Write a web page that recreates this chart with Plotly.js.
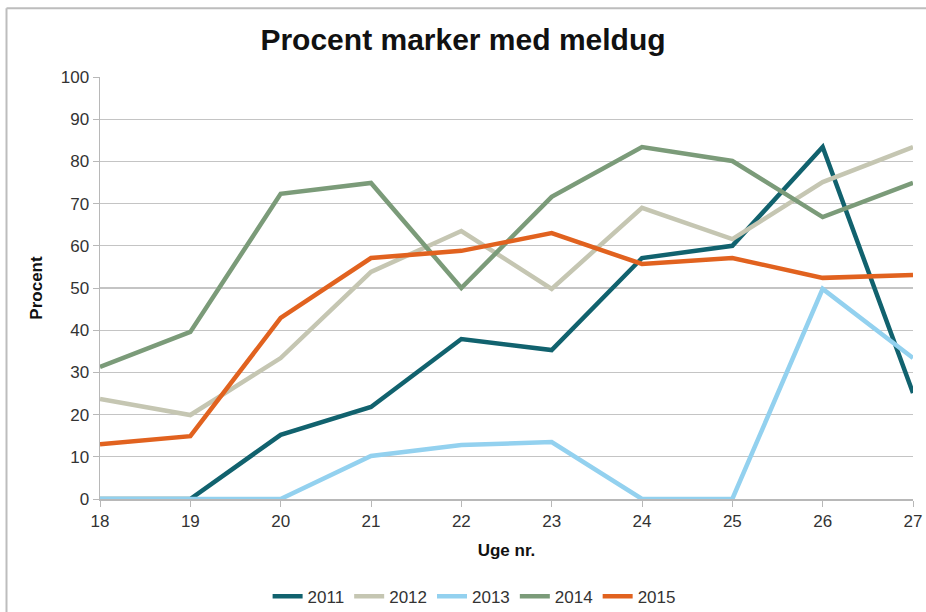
<!DOCTYPE html>
<html>
<head>
<meta charset="utf-8">
<script src="https://cdn.plot.ly/plotly-3.0.1.min.js"></script>
<style>html,body{margin:0;padding:0;background:#fff;}#chart{width:926px;height:612px;}</style>
</head>
<body>
<div id="chart"></div>
<script>
const weeks = [18, 19, 20, 21, 22, 23, 24, 25, 26, 27];
const seriesNames = ["2011", "2012", "2013", "2014", "2015"];
const v2011 = [0, 0, 15.2, 21.8, 37.9, 35.3, 57.1, 60, 83.4, 25.1];
const v2012 = [23.7, 19.9, 33.4, 53.8, 63.5, 49.8, 69, 61.6, 75.1, 83.4];
const v2013 = [0, 0, 0, 10.2, 12.8, 13.5, 0, 0, 49.8, 33.4];
const v2014 = [31.3, 39.6, 72.3, 74.9, 50, 71.6, 83.4, 80.1, 66.8, 74.9];
const v2015 = [13, 14.9, 42.9, 57.1, 58.8, 63, 55.7, 57.1, 52.4, 53.1];
const colors = ["#11626e", "#c5c6b2", "#93d1ef", "#7b9b79", "#e1621f"];

const values = [v2011, v2012, v2013, v2014, v2015];
const traces = values.map((v, i) => ({
  x: weeks, y: v, name: seriesNames[i], type: "scatter", mode: "lines",
  line: {color: colors[i], width: 4.5}
}));

const font = "Liberation Sans Narrow, Arial Narrow, Liberation Sans, sans-serif";
const layout = {
  width: 926, height: 612,
  margin: {l: 100, r: 13, t: 77, b: 113, autoexpand: false},
  paper_bgcolor: "#ffffff", plot_bgcolor: "#ffffff",
  font: {family: font, color: "#333333", size: 17},
  title: {text: "<b>Procent marker med meldug</b>", x: 0.5, xanchor: "center", y: 0.935, yanchor: "middle",
          font: {family: font, size: 30, color: "#111111"}},
  xaxis: {
    range: [18, 27], tickmode: "array", tickvals: weeks, ticktext: weeks.map(String),
    showgrid: false, zeroline: false, showline: true, linecolor: "#b8b8b8", linewidth: 1.5,
    ticks: "outside", ticklen: 6, tickcolor: "#b8b8b8", tickfont: {size: 17, color: "#333"},
    title: {text: "<b>Uge nr.</b>", font: {size: 17, color: "#111"}, standoff: 14}
  },
  yaxis: {
    range: [0, 100], dtick: 10, tick0: 0,
    showgrid: true, gridcolor: "#c4c4c4", gridwidth: 1.3, zeroline: false,
    showline: true, linecolor: "#b8b8b8", linewidth: 1.5,
    ticks: "outside", ticklen: 6, tickcolor: "#b8b8b8", tickfont: {size: 17, color: "#333"},
    title: {text: "<b>Procent</b>", font: {size: 17, color: "#111"}, standoff: 14}
  },
  legend: {orientation: "h", xref: "container", yref: "container", x: 0.512, xanchor: "center", y: 0.025, yanchor: "middle",
           font: {size: 17, color: "#333"}, tracegroupgap: 0},
  showlegend: true,
  shapes: [
    {type: "line", xref: "paper", yref: "paper", x0: -0.115, x1: 1.02, y0: 1.163, y1: 1.163, line: {color: "#bdbdbd", width: 2}},
    {type: "line", xref: "paper", yref: "paper", x0: -0.115, x1: -0.115, y0: 1.163, y1: -0.27, line: {color: "#bdbdbd", width: 2}}
  ]
};
Plotly.newPlot("chart", traces, layout, {displayModeBar: false, staticPlot: true});
</script>
</body>
</html>
